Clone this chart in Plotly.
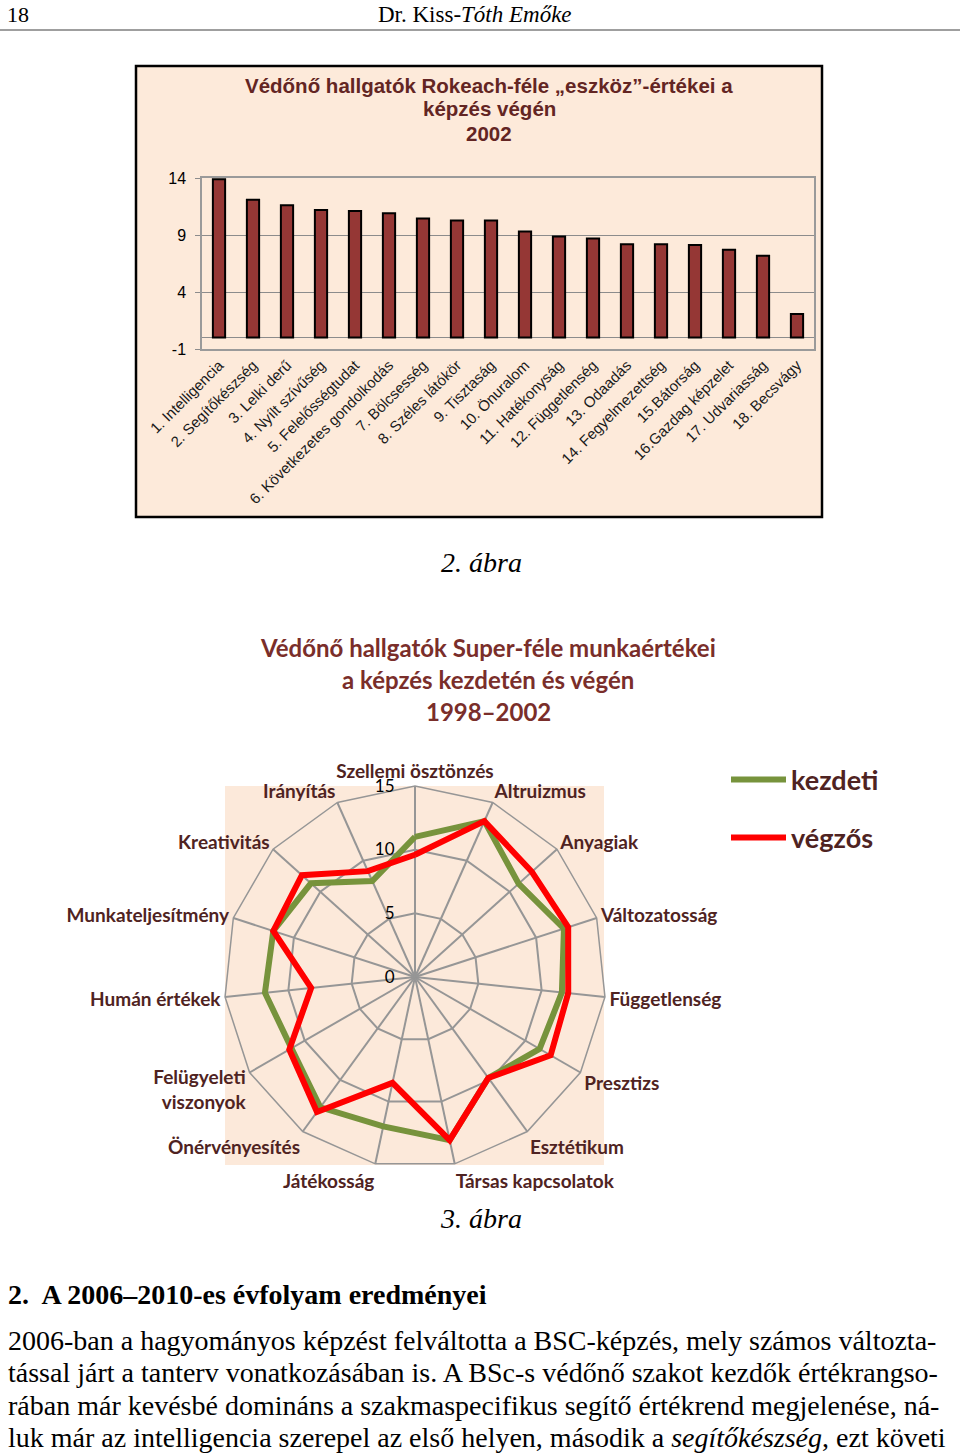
import plotly.graph_objects as go

W, H = 960, 1455

def px(x):
    return x / W

def py(y):
    return 1 - y / H

# ---------------- Data: bar chart (Rokeach instrumental values) ----------------
bar_categories = [
    "1. Intelligencia", "2. Segítőkészség", "3. Lelki derű", "4. Nyílt szívűség",
    "5. Felelősségtudat", "6. Következetes gondolkodás", "7. Bölcsesség",
    "8. Széles látókör", "9. Tisztaság", "10. Önuralom", "11. Hatékonyság",
    "12. Függetlenség", "13. Odaadás", "14. Fegyelmezettség", "15.Bátorság",
    "16.Gazdag képzelet", "17. Udvariasság", "18. Becsvágy",
]
bar_values = [13.9, 12.1, 11.6, 11.2, 11.1, 10.9, 10.45, 10.27, 10.27, 9.3,
              8.87, 8.7, 8.18, 8.18, 8.13, 7.7, 7.17, 2.08]
bar_yticks = [-1, 4, 9, 14]
bar_yticktext = ["-1", "4", "9", "14"]

# ---------------- Data: radar chart (Super work values) ----------------
radar_categories = [
    "Szellemi ösztönzés", "Altruizmus", "Anyagiak", "Változatosság", "Függetlenség",
    "Presztizs", "Esztétikum", "Társas kapcsolatok", "Játékosság", "Önérvényesítés",
    "Felügyeleti viszonyok", "Humán értékek", "Munkateljesítmény", "Kreativitás", "Irányítás",
]
radar_ticktext = [
    "Szellemi ösztönzés", "Altruizmus", "Anyagiak", "Változatosság", "Függetlenség",
    "Presztizs", "Esztétikum", "Társas kapcsolatok", "Játékosság", "Önérvényesítés",
    "Felügyeleti<br>viszonyok", "Humán értékek", "Munkateljesítmény", "Kreativitás", "Irányítás",
]
kezdeti = [11.0, 13.4, 10.95, 12.3, 11.6, 11.3, 9.8, 13.1, 12.0, 12.65, 11.2, 11.85, 11.7, 11.0, 8.25]
vegzos = [9.6, 13.4, 12.35, 12.65, 12.1, 12.3, 9.8, 13.1, 8.5, 13.1, 11.4, 8.2, 11.7, 11.95, 9.1]
radar_rticks = [0, 5, 10, 15]

TITLE_BROWN = "#632523"
LABEL_BROWN = "#4f2322"
SERIF = "Liberation Serif"
SANS = "Liberation Sans"
CAL = "Lato"

fig = go.Figure()

# Bar chart
fig.add_trace(go.Bar(
    x=bar_categories, y=bar_values,
    marker=dict(color="#953735", line=dict(color="#000000", width=2)),
    showlegend=False, xaxis="x", yaxis="y",
))

# Radar chart
fig.add_trace(go.Scatterpolar(
    r=kezdeti + kezdeti[:1], theta=radar_categories + radar_categories[:1],
    mode="lines", name="kezdeti", line=dict(color="#77933C", width=6),
    legend="legend",
))
fig.add_trace(go.Scatterpolar(
    r=vegzos + vegzos[:1], theta=radar_categories + radar_categories[:1],
    mode="lines", name="végzős", line=dict(color="#FF0000", width=6),
    legend="legend2",
))

shapes = [
    # header rule
    dict(type="line", xref="paper", yref="paper", x0=0, x1=1, y0=py(30), y1=py(30),
         line=dict(color="#7f7f7f", width=1.5)),
    # bar chart frame
    dict(type="rect", xref="paper", yref="paper", x0=px(136), x1=px(822), y0=py(517), y1=py(66),
         fillcolor="#FDEADA", line=dict(color="#000000", width=2.5), layer="below"),
    # radar plot-area background
    dict(type="rect", xref="paper", yref="paper", x0=px(225), x1=px(604), y0=py(1165), y1=py(786),
         fillcolor="#FCE9DA", line=dict(width=0), layer="below"),
]

annotations = []

def ann(text, x, y, size, family, color="#000000", xanchor="center", weight="normal",
        style="normal", yanchor="middle"):
    annotations.append(dict(
        text=text, x=px(x), y=py(y), xref="paper", yref="paper", showarrow=False,
        xanchor=xanchor, yanchor=yanchor,
        font=dict(size=size, family=family, color=color, weight=weight, style=style),
    ))

# header
ann("18", 5, 0, 22, SERIF, xanchor="left", yanchor="top")
ann("Dr. Kiss-<i>Tóth Emőke</i>", 475, 0, 23, SERIF, yanchor="top")

# bar chart title
ann("Védőnő hallgatók Rokeach-féle „eszköz”-értékei a", 489, 85, 20.5, SANS, TITLE_BROWN, weight="bold")
ann("képzés végén", 489, 109, 20.5, SANS, TITLE_BROWN, weight="bold")
ann("2002", 489, 133, 20.5, SANS, TITLE_BROWN, weight="bold")

# captions
ann("2. ábra", 481, 563, 28, SERIF, style="italic")
ann("3. ábra", 481, 1218, 28, SERIF, style="italic")

# radar title
RT = "#7a2e2a"
ann("Védőnő hallgatók Super-féle munkaértékei", 488, 647, 24, CAL, RT, weight="bold")
ann("a képzés kezdetén és végén", 488, 679, 24, CAL, RT, weight="bold")
ann("1998–2002", 488, 711, 24, CAL, RT, weight="bold")

# text body
ann("2.  A 2006–2010-es évfolyam eredményei", 6, 1294, 28, SERIF, weight="bold", xanchor="left")
body = [
    ("2006-ban a hagyományos képzést felváltotta a BSC-képzés, mely számos változta-", 1340),
    ("tással járt a tanterv vonatkozásában is. A BSc-s védőnő szakot kezdők értékrangso-", 1372),
    ("rában már kevésbé domináns a szakmaspecifikus segítő értékrend megjelenése, ná-", 1405),
    ("luk már az intelligencia szerepel az első helyen, második a <i>segítőkészség</i>, ezt követi", 1437),
]
for t, y in body:
    ann(t, 6, y, 28, SERIF, xanchor="left")

fig.update_layout(
    width=W, height=H,
    margin=dict(l=0, r=0, t=0, b=0, autoexpand=False),
    paper_bgcolor="#FFFFFF",
    plot_bgcolor="#EBF1DE",
    bargap=0.64,
    shapes=shapes,
    annotations=annotations,
    xaxis=dict(
        domain=[px(202), px(814)], anchor="y",
        tickangle=-45, tickfont=dict(family=SANS, size=15, color="#1a1a1a"),
        showline=True, linecolor="#9a9a9a", linewidth=1.5, mirror=True,
        ticks="", showgrid=False, fixedrange=True, automargin=False,
    ),
    yaxis=dict(
        domain=[py(349), py(178)], anchor="x",
        range=[-1, 14], tickvals=bar_yticks, ticktext=bar_yticktext,
        tickfont=dict(family=SANS, size=16, color="#000000"),
        showgrid=True, gridcolor="#8c8c8c", gridwidth=1.2,
        zeroline=True, zerolinecolor="#8c8c8c", zerolinewidth=1.2,
        showline=True, linecolor="#9a9a9a", linewidth=1.5, mirror=True,
        ticks="outside", ticklen=5, tickcolor="#8c8c8c", automargin=False,
        ticklabelstandoff=6,
    ),
    polar=dict(
        domain=dict(x=[px(224), px(606)], y=[py(1168), py(786)]),
        bgcolor="rgba(0,0,0,0)",
        gridshape="linear",
        radialaxis=dict(
            range=[0, 15], tickvals=radar_rticks, angle=90, tickangle=90,
            side="counterclockwise",
            showline=False, ticks="outside", ticklen=14, tickcolor="rgba(0,0,0,0)",
            gridcolor="#969696", gridwidth=1.5,
            tickfont=dict(family=CAL, size=17, color="#000000"),
        ),
        angularaxis=dict(
            direction="clockwise", rotation=90,
            tickmode="array", tickvals=radar_categories, ticktext=radar_ticktext,
            gridcolor="#969696", gridwidth=1.5,
            linecolor="#969696", linewidth=1.5, ticks="",
            tickfont=dict(family=CAL, size=19, color=LABEL_BROWN, weight="bold"),
        ),
    ),
    legend=dict(
        x=px(726), y=py(780), xanchor="left", yanchor="middle",
        bgcolor="rgba(0,0,0,0)", itemwidth=55,
        font=dict(family=CAL, size=27, color=LABEL_BROWN, weight="bold"),
    ),
    legend2=dict(
        x=px(726), y=py(838), xanchor="left", yanchor="middle",
        bgcolor="rgba(0,0,0,0)", itemwidth=55,
        font=dict(family=CAL, size=27, color=LABEL_BROWN, weight="bold"),
    ),
)

fig.write_html("out.html", config={"displayModeBar": False},
               post_script="document.body.style.margin='0';")
